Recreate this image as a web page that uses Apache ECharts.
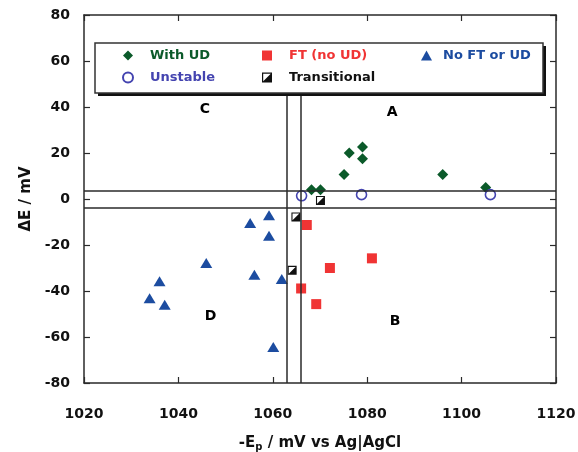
<!DOCTYPE html>
<html>
<head>
<meta charset="utf-8">
<script src="https://cdn.jsdelivr.net/npm/echarts@6/dist/echarts.min.js"></script>
<style>
  html, body { margin: 0; padding: 0; background: #fff; }
  #chart { width: 578px; height: 452px; }
</style>
</head>
<body>
<div id="chart"></div>
<script>
// data: [-Ep (mV), dE (mV)]
const withUD = [
  [1076.2, 20.0], [1079.0, 22.6], [1079.0, 17.5], [1075.1, 10.6],
  [1096.0, 10.6], [1105.1, 5.0], [1068.2, 4.0], [1070.1, 4.0]
];
const ftNoUD = [
  [1067.2, -11.3], [1081.0, -25.8], [1072.1, -30.0], [1066.0, -38.9], [1069.2, -45.7]
];
const noFT = [
  [1059.2, -7.1], [1055.2, -10.4], [1059.2, -16.0], [1045.9, -27.8], [1036.0, -35.8],
  [1033.9, -43.2], [1037.1, -46.0], [1056.1, -32.9], [1061.9, -34.8], [1060.1, -64.3]
];
const unstable = [[1066.1, 1.4], [1078.8, 1.9], [1106.1, 1.9]];
const transitional = [[1070.1, -0.6], [1064.9, -7.8], [1064.1, -31.0]];

// region labels and the boundary lines (vertical ones stop under the legend box)
const regionLabels = [["C", 1045.6, 38.8], ["A", 1085.3, 37.5], ["D", 1046.8, -51.0], ["B", 1085.9, -53.4]];
const boundaryX = [1063, 1066];
const boundaryXTop = 46;
const boundaryY = [3.6, -3.7];

const xTicks = [1020, 1040, 1060, 1080, 1100, 1120];
const yTicks = [-80, -60, -40, -20, 0, 20, 40, 60, 80];

const halfSquare = "path://M0,0L10,0L10,10L0,10ZM1.2,1.2L1.2,8.8L8.8,8.8L8.8,1.2ZM8.8,1.2L8.8,8.8L1.2,8.8Z";

const green = "#0b5a2a";
const red = "#f03434";
const blue = "#1c4ca0";
const purple = "#4444b0";
const axisColor = "#2a2a2a";

const chart = echarts.init(document.getElementById("chart"));

const baseX = {
  type: "value",
  min: xTicks[0],
  max: xTicks[xTicks.length - 1],
  interval: 20,
  axisLine: { show: true, onZero: false, lineStyle: { color: axisColor, width: 1.5 } },
  axisTick: { show: true, inside: true, length: 6, lineStyle: { color: axisColor, width: 1.2 } },
  splitLine: { show: false },
};
const baseY = {
  type: "value",
  min: yTicks[0],
  max: yTicks[yTicks.length - 1],
  interval: 20,
  axisLine: { show: true, onZero: false, lineStyle: { color: axisColor, width: 1.5 } },
  axisTick: { show: true, inside: true, length: 6, lineStyle: { color: axisColor, width: 1.2 } },
  splitLine: { show: false },
};

const labelFont = { color: "#111", fontWeight: "bold", fontSize: 14, fontFamily: "DejaVu Sans" };

const legendText = (color) => ({
  color: color, fontWeight: "bold", fontSize: 13, fontFamily: "DejaVu Sans", padding: [0, 0, 0, 12]
});

chart.setOption({
  backgroundColor: "#fff",
  animation: false,
  grid: { left: 84, right: 22, top: 15, bottom: 69, outerBoundsMode: "none", containLabel: false },
  xAxis: [
    Object.assign({}, baseX, {
      position: "bottom",
      axisLabel: Object.assign({ margin: 24, formatter: (v) => String(v) }, labelFont),
      name: "{a|-E}{s|p}{a| / mV vs Ag|AgCl}",
      nameLocation: "middle",
      nameGap: 51,
      nameTextStyle: {
        rich: {
          a: { color: "#111", fontWeight: "bold", fontSize: 15, fontFamily: "DejaVu Sans" },
          s: { color: "#111", fontWeight: "bold", fontSize: 10, fontFamily: "DejaVu Sans", padding: [8, 0, 0, 0] },
        },
      },
    }),
    Object.assign({}, baseX, { position: "top", axisLabel: { show: false } }),
  ],
  yAxis: [
    Object.assign({}, baseY, {
      position: "left",
      axisLabel: Object.assign({ margin: 14, formatter: (v) => String(v) }, labelFont),
      name: "ΔE / mV",
      nameLocation: "middle",
      nameGap: 45,
      nameTextStyle: { color: "#111", fontWeight: "bold", fontSize: 15, fontFamily: "DejaVu Sans" },
    }),
    Object.assign({}, baseY, { position: "right", axisLabel: { show: false } }),
  ],
  legend: [
    {
      left: 122, top: 49, padding: 0, orient: "vertical", itemWidth: 10, itemHeight: 10, itemGap: 9,
      data: [
        { name: "With UD", textStyle: legendText(green) },
        { name: "Unstable", textStyle: legendText(purple) },
      ],
      z: 120,
    },
    {
      left: 262, top: 49, padding: 0, orient: "vertical", itemWidth: 10, itemHeight: 10, itemGap: 9,
      data: [
        { name: "FT (no UD)", textStyle: legendText(red) },
        { name: "Transitional", textStyle: legendText("#111") },
      ],
      z: 120,
    },
    {
      left: 421, top: 49, padding: 0, orient: "vertical", itemWidth: 11, itemHeight: 10, itemGap: 9,
      data: [{ name: "No FT or UD", textStyle: Object.assign(legendText(blue), { padding: [0, 0, 0, 6] }) }],
      z: 120,
    },
  ],
  graphic: [
    { type: "rect", shape: { x: 98, y: 46, width: 448, height: 50 }, style: { fill: "#111" }, z: 100, silent: true },
    { type: "rect", shape: { x: 95, y: 43, width: 448, height: 50 }, style: { fill: "#fff", stroke: "#333", lineWidth: 1.5 }, z: 101, silent: true },
  ],
  series: [
    {
      name: "With UD", type: "scatter", data: withUD,
      symbol: "diamond", symbolSize: [11, 11],
      itemStyle: { color: green, opacity: 1 },
      markLine: {
        silent: true, symbol: "none", label: { show: false },
        lineStyle: { color: axisColor, width: 1.5, type: "solid", opacity: 1 },
        data: boundaryX.map((v) => [{ coord: [v, yTicks[0]] }, { coord: [v, boundaryXTop] }])
          .concat(boundaryY.map((v) => ({ yAxis: v }))),
      },
    },
    {
      name: "FT (no UD)", type: "scatter", data: ftNoUD,
      symbol: "rect", symbolSize: 10,
      itemStyle: { color: red, opacity: 1 },
    },
    {
      name: "No FT or UD", type: "scatter", data: noFT,
      symbol: "triangle", symbolSize: [12, 10],
      itemStyle: { color: blue, opacity: 1 },
    },
    {
      name: "Unstable", type: "scatter", data: unstable,
      symbol: "circle", symbolSize: 10,
      itemStyle: { color: "#fff", borderColor: purple, borderWidth: 1.6, opacity: 1 },
    },
    {
      name: "Transitional", type: "scatter", data: transitional,
      symbol: halfSquare, symbolSize: 9,
      itemStyle: { color: "#111", opacity: 1 },
    },
    {
      name: "regions", type: "scatter",
      data: regionLabels.map((r) => ({ name: r[0], value: [r[1], r[2]] })),
      symbolSize: 0, silent: true,
      itemStyle: { opacity: 1 },
      label: {
        show: true, position: "inside", formatter: "{b}",
        color: "#000", fontWeight: "bold", fontSize: 14, fontFamily: "DejaVu Sans",
      },
    },
  ],
});
</script>
</body>
</html>
